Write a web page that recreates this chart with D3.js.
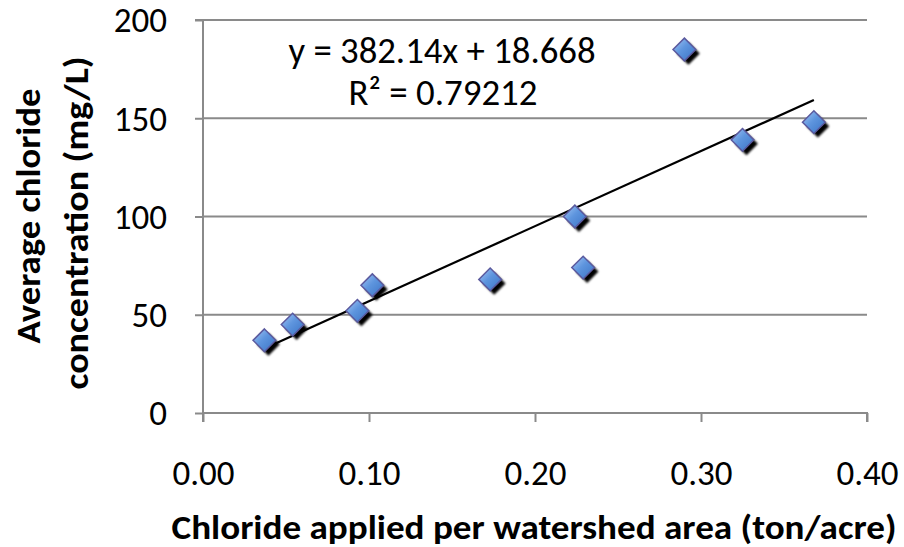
<!DOCTYPE html>
<html><head><meta charset="utf-8">
<script src="https://cdn.jsdelivr.net/npm/d3@7"></script>
<style>body{margin:0;background:#fff}svg{display:block}text{font-family:Carlito,Lato,"Open Sans",sans-serif}</style>
</head><body>
<svg id="c" width="904" height="547"></svg>
<script>
const xValues = [0.037, 0.054, 0.093, 0.102, 0.173, 0.224, 0.229, 0.290, 0.325, 0.368];
const yValues = [37, 45, 52, 65, 68, 100, 74, 185, 139, 148];
const xTicks = [0, 0.1, 0.2, 0.3, 0.4];
const yTicks = [0, 50, 100, 150, 200];
const slope = 382.14, intercept = 18.668;
const eqLabel = "y = 382.14x + 18.668";
const r2Label = "R² = 0.79212";
const xTitle = "Chloride applied per watershed area (ton/acre)";
const yTitle = ["Average chloride", "concentration (mg/L)"];

const svg = d3.select("#c");
const L = 203, R = 867, T = 20, B = 413;
const x = d3.scaleLinear().domain([0, 0.4]).range([L, R]);
const y = d3.scaleLinear().domain([0, 200]).range([B, T]);
const FF = "Carlito,Lato,sans-serif";

const defs = svg.append("defs");
const g = defs.append("linearGradient").attr("id","dg").attr("x1","0").attr("y1","0").attr("x2","1").attr("y2","1");
g.append("stop").attr("offset","0").attr("stop-color","#a6c8f5");
g.append("stop").attr("offset","0.45").attr("stop-color","#5e95de");
g.append("stop").attr("offset","1").attr("stop-color","#3a72c4");
const f = defs.append("filter").attr("id","blur").attr("x","-50%").attr("y","-50%").attr("width","200%").attr("height","200%");
f.append("feGaussianBlur").attr("stdDeviation","1.1");

// gridlines
svg.append("g").selectAll("line").data(yTicks.filter(d=>d>0)).join("line")
  .attr("x1", L).attr("x2", R).attr("y1", d=>y(d)).attr("y2", d=>y(d))
  .attr("stroke","#8a8a8a").attr("stroke-width",2);

// y axis
const ya = svg.append("g").attr("transform",`translate(${L},0)`)
  .call(d3.axisLeft(y).tickValues(yTicks).tickSize(8).tickPadding(28).tickFormat(d3.format("d")));
ya.select(".domain").attr("stroke","#8a8a8a").attr("stroke-width",2).attr("d",`M-8,${T}H0V${B}`);
ya.selectAll(".tick line").attr("stroke","#8a8a8a").attr("stroke-width",2);
ya.selectAll(".tick text").attr("font-size",35).attr("fill","#000").attr("font-family",FF).attr("dy","0.34em");

// x axis
const xa = svg.append("g").attr("transform",`translate(0,${B})`)
  .call(d3.axisBottom(x).tickValues(xTicks).tickSize(9).tickPadding(0).tickFormat(d3.format(".2f")));
xa.select(".domain").attr("stroke","#8a8a8a").attr("stroke-width",2).attr("d",`M${L},9V0H${R}V9`);
xa.selectAll(".tick line").attr("stroke","#8a8a8a").attr("stroke-width",2);
xa.selectAll(".tick text").attr("font-size",35).attr("fill","#000").attr("font-family",FF)
  .attr("y",72).attr("dy",0);

// trendline
const xmin = d3.min(xValues), xmax = d3.max(xValues);
svg.append("line").attr("x1", x(xmin)).attr("y1", y(slope*xmin+intercept))
  .attr("x2", x(xmax)).attr("y2", y(slope*xmax+intercept))
  .attr("stroke","#000").attr("stroke-width",2.2);

// points
const pts = xValues.map((v,i)=>[v,yValues[i]]);
const dia = d3.symbol().type(d3.symbolDiamond2).size(330);
svg.append("g").selectAll("path.sh").data(pts).join("path")
  .attr("d", dia).attr("transform", d=>`translate(${x(d[0])+4},${y(d[1])+4})`)
  .attr("fill","#000").attr("filter","url(#blur)");
svg.append("g").selectAll("path.pt").data(pts).join("path")
  .attr("d", dia).attr("transform", d=>`translate(${x(d[0])},${y(d[1])})`)
  .attr("fill","url(#dg)").attr("stroke","#5b5a9e").attr("stroke-width",1.5);

// equation
svg.append("text").attr("x",442).attr("y",63).attr("text-anchor","middle").attr("font-size",36)
  .attr("textLength",307).attr("lengthAdjust","spacingAndGlyphs").text(eqLabel);
svg.append("text").attr("x",443).attr("y",105).attr("text-anchor","middle").attr("font-size",36)
  .attr("textLength",189).attr("lengthAdjust","spacingAndGlyphs").text(r2Label);

// titles
svg.append("text").attr("x",534).attr("y",539).attr("text-anchor","middle").attr("font-size",35).attr("font-weight","bold")
  .attr("textLength",725).attr("lengthAdjust","spacingAndGlyphs").text(xTitle);
const yPos = [{bx:40, cy:216, len:255},{bx:88, cy:223, len:333}];
yTitle.forEach((t,i)=>{
  svg.append("text").attr("transform",`translate(${yPos[i].bx},${yPos[i].cy}) rotate(-90)`).attr("text-anchor","middle")
    .attr("font-size",35).attr("font-weight","bold")
    .attr("textLength",yPos[i].len).attr("lengthAdjust","spacingAndGlyphs").text(t);
});
</script>
</body></html>
